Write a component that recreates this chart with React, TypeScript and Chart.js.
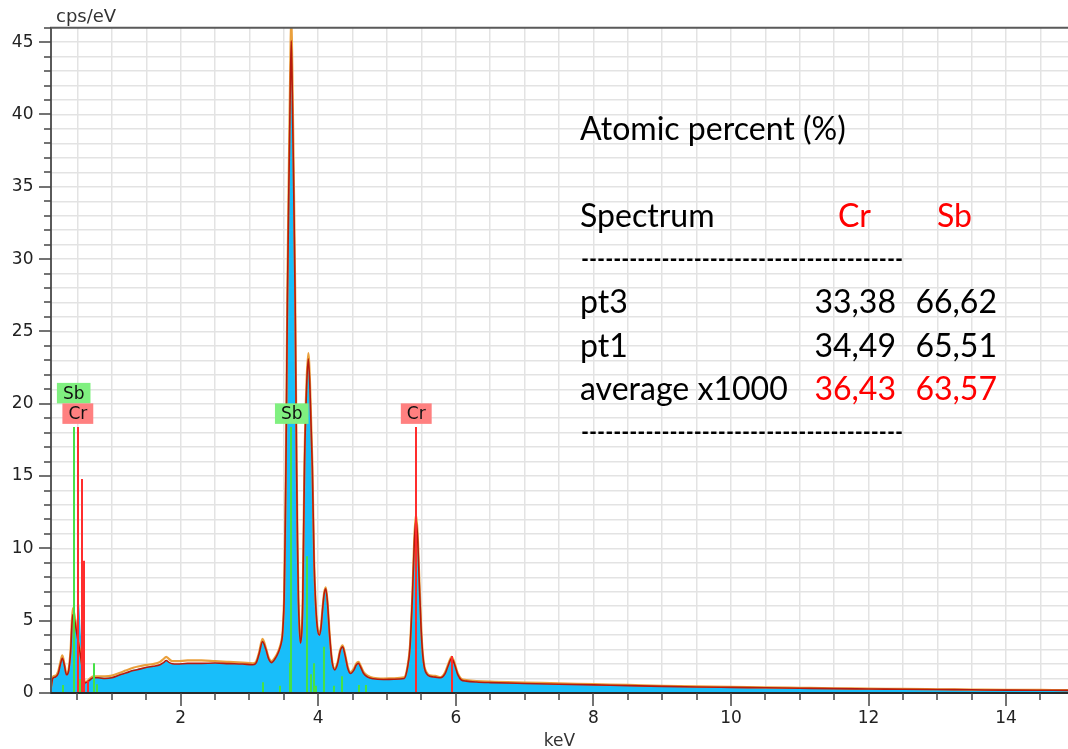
import React, { useEffect, useRef } from "react";
import { Chart, registerables } from "chart.js";

Chart.register(...registerables);

// ---------- spectrum data (keV / cps per eV) ----------
const energyKeV = [
  0.115, 0.14, 0.18, 0.22, 0.25, 0.28, 0.31, 0.34, 0.37, 0.40,
  0.43, 0.46, 0.49, 0.52, 0.55, 0.58, 0.61, 0.64, 0.68, 0.73,
  0.80, 0.90, 1.00, 1.12, 1.20, 1.31, 1.40, 1.51, 1.60, 1.70,
  1.75, 1.79, 1.83, 1.88, 1.95, 2.10, 2.30, 2.50, 2.70, 2.90,
  3.05, 3.10, 3.14, 3.19, 3.24, 3.28, 3.32, 3.37, 3.42, 3.46,
  3.478, 3.488, 3.504, 3.518, 3.5305, 3.552, 3.573, 3.593, 3.608, 3.623,
  3.643, 3.664, 3.6855, 3.698, 3.712, 3.728, 3.742, 3.765, 3.775, 3.80,
  3.83, 3.856, 3.88, 3.914, 3.94, 3.96, 3.985, 4.016, 4.04, 4.06,
  4.085, 4.11, 4.135, 4.165, 4.20, 4.24, 4.28, 4.32, 4.355, 4.39,
  4.43, 4.47, 4.52, 4.555, 4.585, 4.62, 4.66, 4.72, 4.80, 4.95,
  5.10, 5.25, 5.30, 5.335, 5.37, 5.395, 5.42, 5.445, 5.47, 5.495,
  5.52, 5.545, 5.58, 5.62, 5.70, 5.78, 5.84, 5.89, 5.94, 5.98,
  6.03, 6.08, 6.15, 6.30, 6.50, 7.0, 7.5, 8.0, 8.5, 9.0,
  9.5, 10.0, 10.5, 11.0, 11.5, 12.0, 12.5, 13.0, 13.5, 14.0,
  14.5, 14.9,
];

const spectrumRed = [
  0.3, 1.0, 1.1, 1.35, 1.95, 2.4, 1.9, 1.25, 1.5, 2.8,
  5.4, 5.0, 4.1, 3.3, 2.4, 1.3, 0.7, 0.75, 0.9, 1.05,
  1.05, 1.0, 1.05, 1.26, 1.38, 1.55, 1.65, 1.78, 1.85, 1.95,
  2.1, 2.25, 2.12, 2.02, 2.0, 2.05, 2.05, 2.07, 2.03, 2.0,
  1.95, 2.1, 2.7, 3.55, 3.0, 2.35, 2.1, 2.35, 2.8, 3.4,
  3.9, 4.6, 6.4, 10.5, 15.6, 27.2, 35.0, 41.5, 45.1, 41.5,
  35.0, 27.2, 15.6, 10.5, 6.4, 4.3, 3.45, 4.6, 6.4, 15.6,
  21.0, 23.1, 21.0, 15.6, 9.0, 6.4, 4.6, 4.0, 4.5, 5.6,
  6.8, 7.2, 6.2, 4.0, 2.2, 1.6, 2.0, 2.9, 3.2, 2.6,
  1.7, 1.35, 1.6, 1.95, 2.05, 1.75, 1.35, 1.1, 0.98, 0.93,
  0.95, 1.0, 1.8, 3.2, 6.8, 10.2, 12.0, 10.7, 7.5, 4.5,
  2.6, 1.7, 1.3, 1.15, 1.1, 1.05, 1.3, 1.9, 2.4, 2.0,
  1.25, 0.9, 0.82, 0.76, 0.72, 0.66, 0.61, 0.56, 0.51, 0.46,
  0.42, 0.39, 0.36, 0.33, 0.3, 0.28, 0.26, 0.24, 0.22, 0.2,
  0.19, 0.18,
];

const spectrumOrange = [
  0.35, 1.1, 1.2, 1.5, 2.1, 2.6, 2.0, 1.35, 1.6, 3.0,
  5.85, 5.3, 4.3, 3.4, 2.5, 1.4, 0.75, 0.8, 1.0, 1.15,
  1.15, 1.15, 1.2, 1.4, 1.55, 1.75, 1.85, 1.95, 2.0, 2.15,
  2.35, 2.5, 2.35, 2.2, 2.2, 2.25, 2.25, 2.2, 2.15, 2.1,
  2.05, 2.2, 2.8, 3.75, 3.1, 2.45, 2.2, 2.45, 2.9, 3.5,
  4.0, 4.7, 6.6, 10.8, 16.1, 28.2, 36.3, 43.2, 47.0, 43.2,
  36.3, 28.2, 16.1, 10.8, 6.6, 4.4, 3.55, 4.7, 6.6, 16.0,
  21.5, 23.5, 21.5, 16.0, 9.2, 6.5, 4.7, 4.1, 4.6, 5.7,
  6.9, 7.3, 6.3, 4.1, 2.3, 1.7, 2.1, 3.0, 3.3, 2.7,
  1.8, 1.45, 1.7, 2.05, 2.15, 1.85, 1.45, 1.2, 1.05, 1.0,
  1.02, 1.08, 1.9, 3.35, 7.0, 10.5, 12.35, 11.0, 7.8, 4.7,
  2.7, 1.8, 1.4, 1.22, 1.18, 1.1, 1.4, 2.0, 2.5, 2.1,
  1.35, 0.98, 0.9, 0.83, 0.78, 0.72, 0.67, 0.61, 0.56, 0.5,
  0.46, 0.43, 0.39, 0.36, 0.33, 0.31, 0.28, 0.26, 0.24, 0.22,
  0.21, 0.2,
];

const spectrumFill = [
  0.3, 1.0, 1.1, 1.35, 1.9, 2.35, 1.9, 1.2, 1.5, 2.6,
  4.8, 4.5, 5.0, 6.2, 4.0, 1.8, 0.8, 0.8, 0.9, 1.1,
  1.1, 1.05, 1.1, 1.28, 1.4, 1.6, 1.7, 1.8, 1.85, 1.95,
  2.1, 2.25, 2.1, 2.0, 2.0, 2.05, 2.05, 2.05, 2.0, 2.0,
  1.95, 2.1, 2.7, 3.55, 3.0, 2.35, 2.1, 2.35, 2.8, 3.4,
  3.9, 4.6, 6.3, 10.3, 15.2, 26.0, 33.5, 39.0, 42.6, 39.2,
  33.5, 26.0, 15.2, 10.2, 6.3, 4.25, 3.4, 4.5, 6.3, 15.2,
  20.5, 22.6, 20.5, 15.2, 8.8, 6.3, 4.5, 3.95, 4.45, 5.5,
  6.7, 7.1, 6.1, 3.95, 2.2, 1.6, 2.0, 2.85, 3.15, 2.55,
  1.7, 1.35, 1.6, 1.9, 2.0, 1.75, 1.35, 1.1, 0.98, 0.93,
  0.95, 1.0, 1.8, 3.1, 6.6, 9.9, 11.7, 10.4, 7.3, 4.4,
  2.5, 1.7, 1.3, 1.15, 1.1, 1.05, 1.3, 1.9, 2.35, 1.95,
  1.2, 0.9, 0.82, 0.76, 0.72, 0.66, 0.61, 0.56, 0.51, 0.46,
  0.42, 0.39, 0.36, 0.33, 0.3, 0.28, 0.26, 0.24, 0.22, 0.2,
  0.19, 0.18,
];

// ---------- element line markers ----------
const sbLineKeV = [0.285, 0.445, 0.537, 0.745, 0.78, 3.19, 3.44, 3.59, 3.608, 3.84, 3.89, 3.935, 3.97, 4.09, 4.235, 4.34, 4.59, 4.70];
const sbLineCps = [0.55, 18.4, 0.95, 2.05, 0.6, 0.74, 0.5, 2.1, 18.4, 9.45, 1.3, 2.05, 0.5, 3.2, 0.5, 1.15, 0.55, 0.55];
const crLineKeV = [0.503, 0.572, 0.595, 0.657, 5.415, 5.947];
const crLineCps = [18.4, 14.8, 9.15, 0.85, 18.4, 2.55];

const labelText = ["Sb", "Cr", "Sb", "Cr"];
const labelKeV = [0.445, 0.505, 3.615, 5.425];
const labelCps = [18.4, 18.4, 18.4, 18.4];
const labelRow = [1, 0, 0, 0];

// ---------- axes ----------
const xMinKeV = 0.115;
const xMaxKeV = 14.9;
const yMaxCps = 46;
const xLabelEvery = 2;
const yLabelEvery = 5;
const yAxisTitle = "cps/eV";
const xAxisTitle = "keV";

// ---------- table ----------
const tableTitle = "Atomic percent (%)";
const tableHeader = ["Spectrum", "Cr", "Sb"];
const tableRowNames = ["pt3", "pt1", "average x1000"];
const crPercent = ["33,38", "34,49", "36,43"];
const sbPercent = ["66,62", "65,51", "63,57"];
const highlightRow = [false, false, true];

const AXIS_FONT = '17px "DejaVu Sans"';

const overlayPlugin = {
  id: "edsOverlay",
  afterDatasetsDraw(chart: any) {
    const { ctx, chartArea: a, scales } = chart;
    const xs = scales.x;
    const ys = scales.y;
    ctx.save();
    ctx.beginPath();
    ctx.rect(a.left, a.top, a.right - a.left, a.bottom - a.top);
    ctx.clip();
    const drawMarkers = (es: number[], hs: number[], color: string) => {
      ctx.strokeStyle = color;
      ctx.lineWidth = 2;
      es.forEach((e, i) => {
        const px = Math.round(xs.getPixelForValue(e));
        ctx.beginPath();
        ctx.moveTo(px, ys.getPixelForValue(0));
        ctx.lineTo(px, ys.getPixelForValue(hs[i]));
        ctx.stroke();
      });
    };
    drawMarkers(sbLineKeV, sbLineCps, "rgb(70,225,70)");
    drawMarkers(crLineKeV, crLineCps, "rgb(255,45,45)");
    ctx.restore();

    ctx.save();
    ctx.font = AXIS_FONT;
    ctx.textAlign = "center";
    ctx.textBaseline = "middle";
    const h = 20.5;
    labelText.forEach((t, i) => {
      const cx = xs.getPixelForValue(labelKeV[i]);
      const bottom = ys.getPixelForValue(labelCps[i]) - 3 - labelRow[i] * h;
      const w = ctx.measureText(t).width + 12;
      ctx.fillStyle = t === "Sb" ? "rgb(128,240,128)" : "rgb(255,128,128)";
      ctx.fillRect(cx - w / 2, bottom - h, w, h);
      ctx.fillStyle = "#111";
      ctx.fillText(t, cx, bottom - h / 2 + 1);
    });
    ctx.restore();
  },
  afterDraw(chart: any) {
    const { ctx, chartArea: a, scales } = chart;
    const xs = scales.x;
    const ys = scales.y;
    ctx.save();
    // frame
    ctx.lineWidth = 2;
    ctx.strokeStyle = "#5a5a5a";
    ctx.beginPath();
    ctx.moveTo(a.left - 1, a.top);
    ctx.lineTo(a.right, a.top);
    ctx.moveTo(a.left, a.top);
    ctx.lineTo(a.left, a.bottom + 1);
    ctx.stroke();
    ctx.strokeStyle = "#2a2a2a";
    ctx.beginPath();
    ctx.moveTo(a.left - 1, a.bottom);
    ctx.lineTo(a.right, a.bottom);
    ctx.stroke();
    // tick marks
    ctx.lineWidth = 1.5;
    ctx.strokeStyle = "#444";
    ys.ticks.forEach((t: any) => {
      const py = Math.round(ys.getPixelForValue(t.value));
      const len = t.value % yLabelEvery === 0 ? 12 : 7;
      ctx.beginPath();
      ctx.moveTo(a.left - len, py);
      ctx.lineTo(a.left, py);
      ctx.stroke();
    });
    xs.ticks.forEach((t: any) => {
      const px = Math.round(xs.getPixelForValue(t.value));
      const len = Math.abs(t.value % xLabelEvery) < 1e-9 ? 13 : 7;
      ctx.beginPath();
      ctx.moveTo(px, a.bottom);
      ctx.lineTo(px, a.bottom + len);
      ctx.stroke();
    });
    // axis titles
    ctx.fillStyle = "#333";
    ctx.textBaseline = "alphabetic";
    ctx.textAlign = "left";
    ctx.font = '18px "DejaVu Sans"';
    ctx.fillText(yAxisTitle, 56, 22);
    ctx.font = AXIS_FONT;
    ctx.textAlign = "center";
    ctx.fillText(xAxisTitle, (a.left + a.right) / 2, 746);

    // table
    ctx.font = "30px Lato";
    const size = (30 * 266) / ctx.measureText(tableTitle).width;
    ctx.font = `${size}px Lato`;
    ctx.textAlign = "left";
    ctx.fillStyle = "#000";
    ctx.fillText(tableTitle, 580, 140);
    ctx.fillText(tableHeader[0], 580, 226.7);
    ctx.fillStyle = "#ff0000";
    ctx.fillText(tableHeader[1], 838, 226.7);
    ctx.fillText(tableHeader[2], 937, 226.7);
    const dashes = "-".repeat(40);
    ctx.fillStyle = "#000";
    ctx.fillText(dashes, 581, 269.5, 322);
    ctx.fillText(dashes, 581, 443, 322);
    const baselines = [313.3, 356.7, 400];
    tableRowNames.forEach((n, i) => {
      ctx.textAlign = "left";
      ctx.fillStyle = "#000";
      ctx.fillText(n, 580, baselines[i]);
      ctx.textAlign = "right";
      ctx.fillStyle = highlightRow[i] ? "#ff0000" : "#000";
      ctx.fillText(crPercent[i], 896, baselines[i]);
      ctx.fillText(sbPercent[i], 997, baselines[i]);
    });
    ctx.restore();
  },
};

export default function App() {
  const canvasRef = useRef<HTMLCanvasElement | null>(null);

  useEffect(() => {
    document.body.style.margin = "0";
    const canvas = canvasRef.current;
    if (!canvas) return;
    const toPoints = (ys: number[]) => energyKeV.map((e, i) => ({ x: e, y: ys[i] }));
    const chart = new Chart(canvas, {
      type: "line",
      data: {
        datasets: [
          {
            label: "fill",
            data: toPoints(spectrumFill),
            backgroundColor: "rgb(24,190,250)",
            borderWidth: 0,
            fill: "origin",
            pointRadius: 0,
            cubicInterpolationMode: "monotone",
            order: 3,
          },
          {
            label: "orange",
            data: toPoints(spectrumOrange),
            borderColor: "rgb(234,160,60)",
            borderWidth: 2.2,
            fill: false,
            pointRadius: 0,
            cubicInterpolationMode: "monotone",
            order: 2,
          },
          {
            label: "red",
            data: toPoints(spectrumRed),
            borderColor: "rgb(182,26,14)",
            borderWidth: 1.6,
            fill: false,
            pointRadius: 0,
            cubicInterpolationMode: "monotone",
            order: 1,
          },
        ],
      },
      options: {
        responsive: false,
        animation: false,
        devicePixelRatio: 1,
        events: [],
        layout: { padding: { top: 26, left: 0, right: 0, bottom: 0 } },
        plugins: { legend: { display: false }, tooltip: { enabled: false } },
        scales: {
          x: {
            type: "linear",
            min: xMinKeV,
            max: xMaxKeV,
            afterFit: (s: any) => {
              s.height = 56;
            },
            border: { display: false },
            grid: { drawTicks: false, color: "#e3e3e3", lineWidth: 1.5 },
            ticks: {
              stepSize: 0.5,
              includeBounds: false,
              autoSkip: false,
              maxRotation: 0,
              padding: 15,
              color: "#222",
              font: { family: "DejaVu Sans", size: 17 },
              callback: (v: any) => (Math.abs(Number(v) % xLabelEvery) < 1e-9 ? String(v) : ""),
            },
          },
          y: {
            type: "linear",
            min: 0,
            max: yMaxCps,
            afterFit: (s: any) => {
              s.width = 51;
            },
            border: { display: false },
            grid: {
              drawTicks: false,
              lineWidth: 1.5,
              color: (c: any) => (c.tick && c.tick.value === yMaxCps ? "rgba(0,0,0,0)" : "#e3e3e3"),
            },
            ticks: {
              stepSize: 1,
              includeBounds: false,
              autoSkip: false,
              padding: 17.5,
              color: "#222",
              font: { family: "DejaVu Sans", size: 17 },
              callback: (v: any) => (Number(v) % yLabelEvery === 0 ? String(v) : ""),
            },
          },
        },
      },
      plugins: [overlayPlugin],
    } as any);
    return () => chart.destroy();
  }, []);

  return (
    <div style={{ position: "relative", width: 1068, height: 749 }}>
      <canvas ref={canvasRef} width={1068} height={749} style={{ display: "block" }} />
    </div>
  );
}
